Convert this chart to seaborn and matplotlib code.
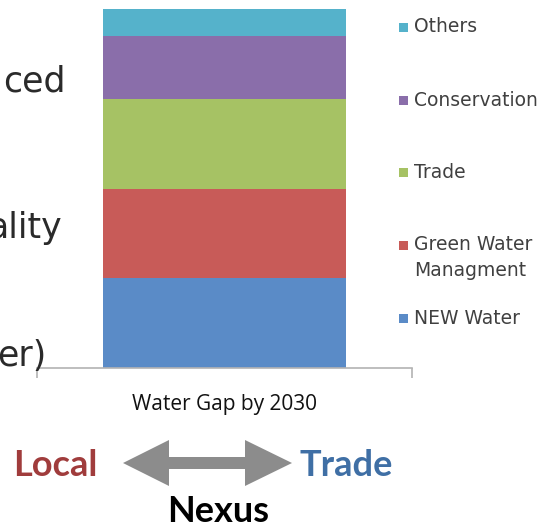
import matplotlib
matplotlib.use("Agg")
import matplotlib.pyplot as plt
import matplotlib.transforms as mtransforms
from matplotlib.patches import Polygon, Rectangle
import seaborn as sns
import pandas as pd

# data (bottom -> top)
category = "Water Gap by 2030"
segments = ["NEW Water", "Green Water\nManagment", "Trade", "Conservation", "Others"]
values = [20, 20, 20, 14, 6]
colors = ["#5A8BC7", "#C85B58", "#A6C264", "#8A6EAA", "#55B2CB"]

W, H = 548, 528
sns.set_theme(style="white")
plt.rcParams['font.family'] = ['DejaVu Sans']

fig = plt.figure(figsize=(W / 100, H / 100), dpi=100)
# pixel coords, origin top-left
pix = mtransforms.Affine2D().scale(1 / W, -1 / H).translate(0, 1) + fig.transFigure

ax = fig.add_axes([37 / W, (H - 368) / H, 375 / W, (368 - 9) / H])

df = pd.DataFrame({"segment": segments, "value": values, "color": colors})
df["top"] = df["value"].cumsum()
df["cat"] = category

# stacked bar: cumulative totals, tallest first
for _, row in df[::-1].iterrows():
    sns.barplot(x=[row["cat"]], y=[row["top"]], color=row["color"], width=0.65,
                saturation=1, edgecolor="none", linewidth=0, ax=ax)

ax.set_xlim(-0.5, 0.5)
ax.set_ylim(0, df["top"].max())
ax.set_ylabel("")
ax.set_yticks([])
for s in ["left", "right", "top"]:
    ax.spines[s].set_visible(False)
ax.spines["bottom"].set_color("#B3B3B3")
ax.spines["bottom"].set_linewidth(1.2)
ax.set_xticks([0])
ax.set_xticklabels([category], fontsize=15, family=["Open Sans", "DejaVu Sans"], color="#111111")
ax.tick_params(axis="x", which="major", length=0, pad=19)
ax.set_xticks([-0.5, 0.5], minor=True)
ax.tick_params(axis="x", which="minor", length=7, width=1.2, color="#B3B3B3", bottom=True)

# legend drawn by hand to keep the slide spacing
leg_y = [318, 245, 172, 100, 27]
for seg, col, y in zip(segments, colors, leg_y):
    fig.patches.append(Rectangle((399, y - 4.5), 9, 9, facecolor=col, edgecolor="none",
                                 transform=pix, figure=fig))
    if "\n" in seg:
        fig.text(414, y - 10, seg, transform=pix, fontsize=13.5, color="#404040",
                 va="top", ha="left", linespacing=1.45)
    else:
        fig.text(414, y, seg, transform=pix, fontsize=13.5, color="#404040",
                 va="center", ha="left")

# slide text cut off on the left
left_txt = dict(transform=pix, fontsize=25, color="#2A2A2A", ha="left", va="baseline")
fig.text(3, 92, "ced", **left_txt)
fig.text(-12, 238, "ality", **left_txt)
fig.text(-3, 366, "er)", **left_txt)

# double arrow
arrow = [(123, 463), (169, 440), (169, 457), (245, 457), (245, 440), (292, 463),
         (245, 486), (245, 469), (169, 469), (169, 486)]
fig.patches.append(Polygon(arrow, closed=True, facecolor="#8C8C8C", edgecolor="none",
                           transform=pix, figure=fig))

bold = dict(transform=pix, fontsize=26, fontweight="bold", va="baseline",
            family=["Lato", "DejaVu Sans"])
fig.text(13, 476, "Local", color="#A03C3C", ha="left", **bold)
fig.text(300, 476, "Trade", color="#3F6FA5", ha="left", **bold)
fig.text(218, 522, "Nexus", color="#000000", ha="center", **bold)

fig.savefig("out.png", dpi=100)
